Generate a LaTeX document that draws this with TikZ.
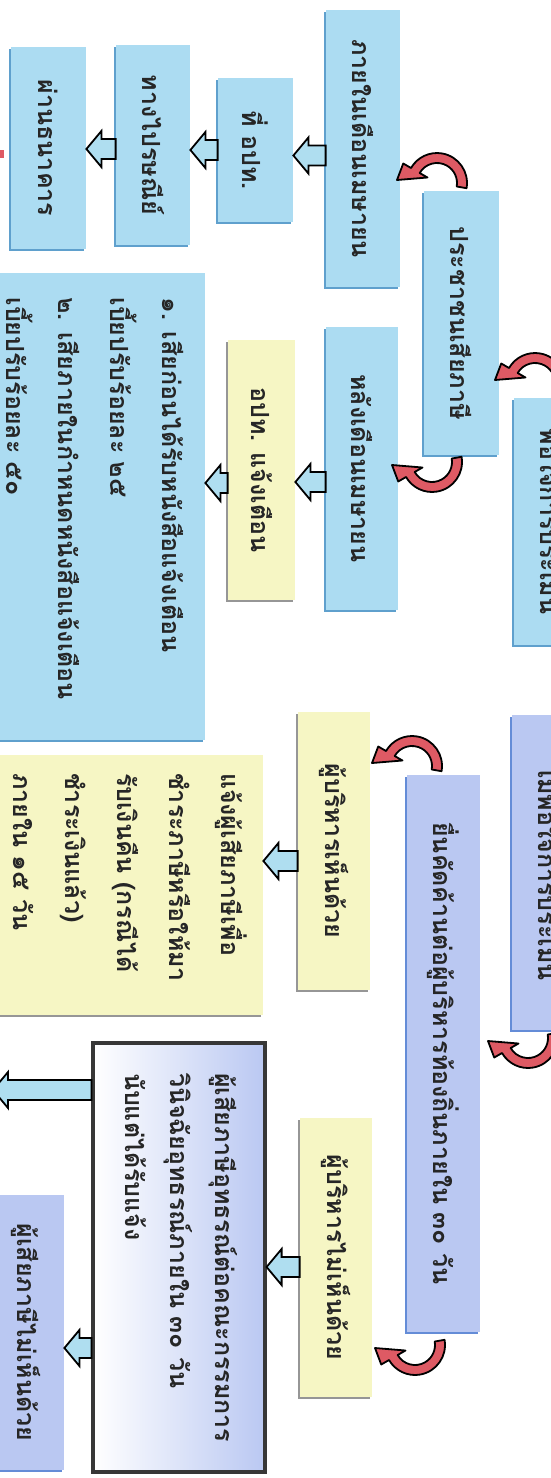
\documentclass[tikz,border=0pt]{standalone}
\usepackage{fontspec}
\usepackage{graphicx}
\newfontfamily\thaifont[Script=Thai]{Loma}
\usetikzlibrary{calc,shadows}

\definecolor{boxblue}{RGB}{172,220,242}
\definecolor{edgeblue}{RGB}{95,160,205}
\definecolor{boxyellow}{RGB}{246,246,196}
\definecolor{edgegrey}{RGB}{150,150,150}
\definecolor{boxlav}{RGB}{186,200,242}
\definecolor{edgelav}{RGB}{100,140,215}
\definecolor{arrowblue}{RGB}{175,222,240}
\definecolor{curvered}{RGB}{222,90,100}
\definecolor{framegrey}{RGB}{55,55,55}

% text turned a quarter clockwise
\newcommand{\sidetext}[1]{\rotatebox{-90}{#1}}
\newcommand{\sidelines}[2]{\rotatebox{-90}{\makebox[#1][l]{\begin{tabular}{@{}l@{}}#2\end{tabular}}}}

\tikzset{
  boxsize/.style 2 args={minimum width=#1*0.5pt, minimum height=#2*0.5pt},
  box/.style={rectangle, inner sep=0pt, text=black!85,
    font=\thaifont\bfseries\fontsize{12.5}{26}\selectfont},
  bluebox/.style={box, fill=boxblue,
    drop shadow={shadow xshift=-1pt, shadow yshift=-1pt, fill=edgeblue, opacity=1}},
  yellowbox/.style={box, fill=boxyellow,
    drop shadow={shadow xshift=-1.2pt, shadow yshift=-1pt, fill=edgegrey, opacity=1}},
  lavbox/.style={box, fill=boxlav,
    drop shadow={shadow xshift=-1pt, shadow yshift=-1pt, fill=edgelav, opacity=1}},
  framebox/.style={box, draw=framegrey, line width=1.6pt, left color=white, right color=boxlav},
  blockarrow/.style={fill=arrowblue, draw=black, line width=0.9pt, line join=miter,
    to path={let \p1=(\tikztostart), \p2=(\tikztotarget) in
      (\x1,\y1+5pt) -- (\x2+7.5pt,\y1+5pt) -- (\x2+7.5pt,\y1+9pt) -- (\x2,\y1)
      -- (\x2+7.5pt,\y1-9pt) -- (\x2+7.5pt,\y1-5pt) -- (\x1,\y1-5pt) -- cycle}},
  turnarrow/.pic={
    \filldraw[fill=curvered, draw=black, line width=0.9pt, line join=round]
      (-10:15pt) arc[start angle=-10, end angle=150, radius=15pt]
      -- (150:19.5pt) -- (-20pt,1.5pt) -- (150:5.5pt) -- (150:10pt)
      arc[start angle=150, end angle=-10, radius=10pt] -- cycle;
  }
}

\begin{document}
\begin{tikzpicture}[x=0.5pt, y=0.5pt]
\useasboundingbox (0,0) rectangle (551,-1478);
\clip (0,0) rectangle (551,-1478);
\fill[white] (0,0) rectangle (551,-1478);

% first branch
\node[bluebox, boxsize={75}{264}] (people) at (461.5,-323) {\sidetext{ประชาชนเสียภาษี}};
\node[bluebox, boxsize={74}{277}] (inapr) at (363,-148.5) {\sidetext{ภายในเดือนเมษายน}};
\node[bluebox, boxsize={75}{144}] (office) at (255.5,-150) {\sidetext{ที่ อปท.}};
\node[bluebox, boxsize={74}{200}] (post) at (153,-145) {\sidetext{ทางไปรษณีย์}};
\node[bluebox, boxsize={75}{202}] (bank) at (48.5,-148) {\sidetext{ผ่านธนาคาร}};

% late payment
\node[bluebox, boxsize={72}{283}] (afterapr) at (362,-468.5) {\sidetext{หลังเดือนเมษายน}};
\node[yellowbox, boxsize={67}{260}] (notice) at (261.5,-470) {\sidetext{อปท. แจ้งเตือน}};
\node[bluebox, boxsize={220}{467}] (surcharge) at (95,-506.5)
  {\sidelines{209pt}{๑. เสียก่อนได้รับหนังสือแจ้งเตือน\\เบี้ยปรับร้อยละ ๒๕\\๒. เสียภายในกำหนดหนังสือแจ้งเตือน\\เบี้ยปรับร้อยละ ๕๐}};

% assessment
\node[bluebox, boxsize={74}{247}] (satisfied) at (551,-521.5) {\sidetext{พอใจการประเมิน}};
\node[lavbox, boxsize={74}{315}] (dissatisfied) at (549,-872.5) {\sidetext{ไม่พอใจการประเมิน}};
\node[lavbox, boxsize={73}{557}] (objection) at (443.5,-1053.5) {\sidetext{ยื่นคัดค้านต่อผู้บริหารท้องถิ่นภายใน ๓๐ วัน}};
\node[yellowbox, boxsize={72}{278}] (agree) at (334,-851) {\sidetext{ผู้บริหารเห็นด้วย}};
\node[yellowbox, boxsize={270}{260}] (refund) at (128,-885)
  {\sidelines{112pt}{แจ้งผู้เสียภาษีเพื่อ\\ชำระภาษีหรือให้มา\\รับเงินคืน (กรณีได้\\ชำระเงินแล้ว)\\ภายใน ๑๕ วัน}};
\node[yellowbox, boxsize={72}{279}] (disagree) at (336,-1257.5) {\sidetext{ผู้บริหารไม่เห็นด้วย}};
\node[framebox, boxsize={172}{429}, font=\thaifont\bfseries\fontsize{12.5}{22.5}\selectfont] (appeal) at (179,-1257.5)
  {\sidelines{184.5pt}{ผู้เสียภาษีอุทธรณ์ต่อคณะกรรมการ\\วินิจฉัยอุทธรณ์ภายใน ๓๐ วัน\\นับแต่ได้รับแจ้ง}};
\node[lavbox, boxsize={76}{275}] (taxpayerno) at (26,-1332.5) {\sidetext{ผู้เสียภาษีไม่เห็นด้วย}};
\coordinate (offleft) at (-7,-1090);

% block arrows
\draw[blockarrow] ([yshift=-3.5pt]inapr.west) to (office.east);
\draw[blockarrow] (office.west) to (post.east);
\draw[blockarrow] ([yshift=-2pt]post.west) to (bank.east);
\draw[blockarrow] ([yshift=-6.75pt]afterapr.west) to (notice.east);
\draw[blockarrow] ([yshift=-6.5pt]notice.west) to (surcharge.east);
\draw[blockarrow] ([yshift=-5pt]agree.west) to (refund.east);
\draw[blockarrow] ([yshift=-4.75pt]disagree.west) to (appeal.east);
\draw[blockarrow] ([yshift=-45.25pt]appeal.west) to (taxpayerno.east);
\draw[blockarrow] ([yshift=83.75pt]appeal.west) to (offleft);

% curved arrows
\pic at (437,-183) {turnarrow};
\pic[yscale=-1] at (432,-462) {turnarrow};
\pic at (535,-383) {turnarrow};
\pic at (412,-766) {turnarrow};
\pic[yscale=-1] at (528,-1038) {turnarrow};
\pic[yscale=-1] at (415,-1345) {turnarrow};

\fill[curvered] (0,-150) rectangle (4,-158);
\end{tikzpicture}
\end{document}
